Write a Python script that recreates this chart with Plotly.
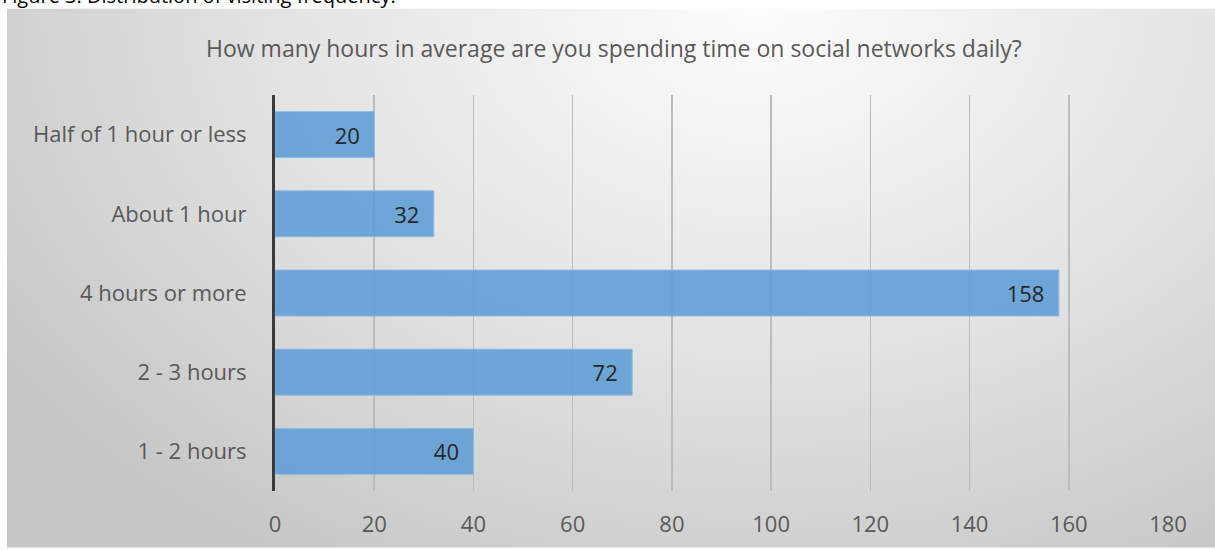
import plotly.graph_objects as go
import base64

categories = ["1 - 2 hours", "2 - 3 hours", "4 hours or more", "About 1 hour", "Half of 1 hour or less"]
values = [40, 72, 158, 32, 20]
x_ticks = [0, 20, 40, 60, 80, 100, 120, 140, 160, 180]

title_text = "How many hours in average are you spending time on social networks daily?"
caption_text = "Figure 3: Distribution of visiting frequency."

W, H = 1215, 550
ML, MR, MT, MB = 275, 47, 95, 57
PW, PH = W - ML - MR, H - MT - MB

svg = (
    '<svg xmlns="http://www.w3.org/2000/svg" width="1208" height="542" viewBox="0 0 1208 542" preserveAspectRatio="none">'
    '<defs><radialGradient id="g" cx="0.62" cy="0.0" r="0.75" gradientTransform="translate(0.62,0) scale(1,1.6) translate(-0.62,0)">'
    '<stop offset="0" stop-color="#fdfdfd"/><stop offset="0.55" stop-color="#e2e2e2"/><stop offset="1" stop-color="#c6c6c6"/>'
    '</radialGradient></defs><rect width="1208" height="542" fill="url(#g)"/></svg>'
)
src = "data:image/svg+xml;base64," + base64.b64encode(svg.encode()).decode()

font_family = "Open Sans, Lato, sans-serif"

fig = go.Figure()
fig.add_trace(go.Bar(
    y=categories, x=values, orientation="h",
    marker=dict(color="rgba(98,158,214,0.9)", line=dict(color="rgba(140,185,230,0.9)", width=1)),
    width=0.58,
    text=values,
    texttemplate="%{x}\u00a0\u00a0",
    textposition="inside", insidetextanchor="end",
    textfont=dict(family=font_family, size=22, color="#262626"),
    cliponaxis=False,
    hoverinfo="skip",
))

fig.update_layout(
    width=W, height=H,
    margin=dict(l=ML, r=MR, t=MT, b=MB),
    paper_bgcolor="white", plot_bgcolor="rgba(0,0,0,0)",
    showlegend=False,
    images=[dict(source=src, xref="paper", yref="paper",
                 x=(7 - ML) / PW, y=(H - MB - 8) / PH,
                 sizex=1208 / PW, sizey=542 / PH,
                 xanchor="left", yanchor="top", sizing="stretch", layer="below")],
    xaxis=dict(range=[0, 180], tickvals=x_ticks, showgrid=True, gridcolor="#bcbcbc", gridwidth=1.5,
               zeroline=False, showline=False, ticks="",
               tickfont=dict(family=font_family, size=22, color="#595959"),
               ticklabelstandoff=18, fixedrange=True),
    yaxis=dict(showgrid=False, showline=True, linecolor="#3a3a3a", linewidth=3, ticks="",
               tickfont=dict(family=font_family, size=22, color="#595959"),
               ticklabelstandoff=21, fixedrange=True),
    annotations=[
        dict(text=title_text, xref="paper", yref="paper",
             x=(614 - ML) / PW, y=(H - MB - 48) / PH,
             xanchor="center", yanchor="middle", showarrow=False,
             font=dict(family=font_family, size=23, color="#595959")),
        dict(text=caption_text, xref="paper", yref="paper",
             x=(0 - ML) / PW, y=(H - MB + 5) / PH,
             xanchor="left", yanchor="middle", showarrow=False,
             font=dict(family=font_family, size=20, color="#000000")),
    ],
)

fig.write_html("out.html", config={"displayModeBar": False, "staticPlot": True},
               post_script="document.body.style.margin='0';")
